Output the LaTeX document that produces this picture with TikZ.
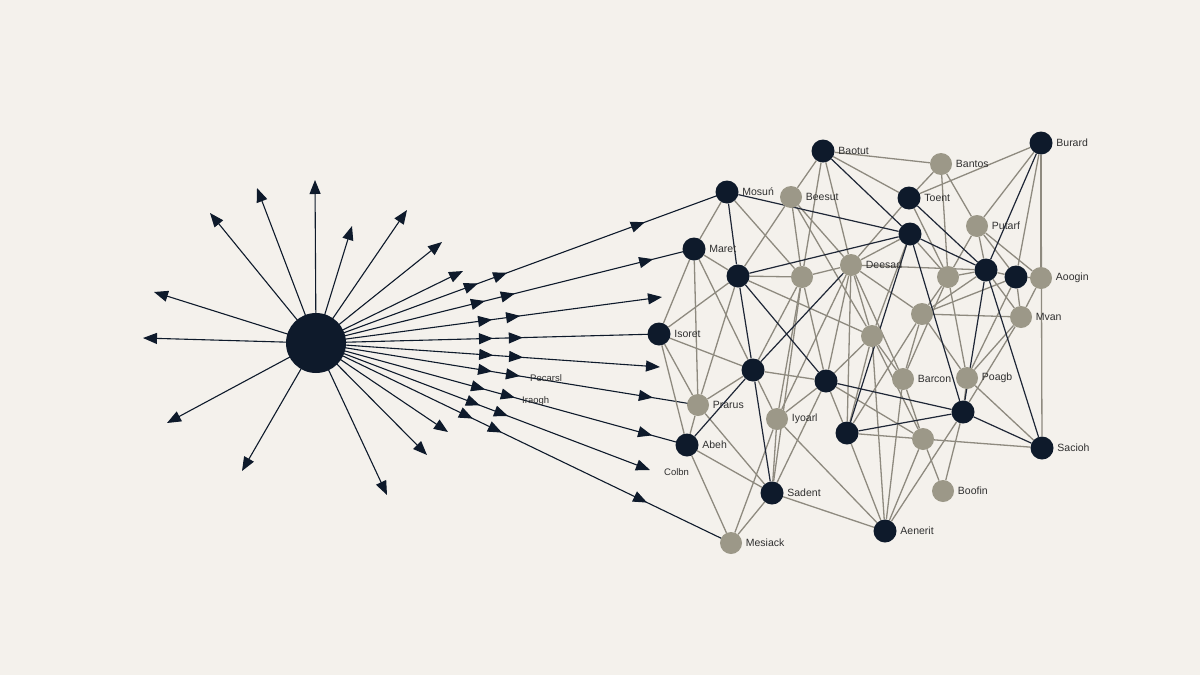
\documentclass[tikz,border=0pt]{standalone}
\usepackage{fontspec}
\setmainfont{Liberation Sans}
\usetikzlibrary{arrows.meta,decorations.markings}
\definecolor{bgc}{HTML}{F4F1EC}
\definecolor{navy}{HTML}{0E1A2B}
\definecolor{stone}{HTML}{9C9888}
\definecolor{sline}{HTML}{8E8A7F}
\definecolor{dline}{HTML}{1E2636}
\definecolor{lbl}{HTML}{303030}
\pgfdeclarelayer{bg}
\pgfsetlayers{bg,main}
\tikzset{tri/.tip={Triangle[length=14pt,width=11pt]}}
\begin{document}
\begin{tikzpicture}[x=1pt,y=-1pt,
  label distance=3.5pt,
  lab/.style={font=\fontsize{10.5}{12}\selectfont,text=lbl,inner sep=0pt},
  smalllab/.style={font=\fontsize{9.5}{11}\selectfont,text=lbl,inner sep=0pt,anchor=west},
  dn/.style={circle,fill=navy,minimum size=23pt,inner sep=0pt},
  gn/.style={circle,fill=stone,minimum size=22pt,inner sep=0pt},
  dl/.style={dn,label={[lab]0:#1}},
  gl/.style={gn,label={[lab]0:#1}},
  ge/.style={draw=sline,line width=1.3pt},
  de/.style={draw=dline,line width=1.2pt},
  ray/.style={draw=navy,line width=1.1pt,-{tri}},
  fan/.style={draw=navy,line width=1.1pt},
  am/.style={postaction={decorate,decoration={markings,mark=at position #1 with {\arrow[navy]{tri}}}}}
]
% hub
\node[circle,fill=navy,minimum size=60pt,inner sep=0pt] (hub) at (316,343) {};

% network nodes
\node[dl=Baotut] (baotut) at (823,151) {};
\node[dl=Mosuń] (mosun) at (727,192) {};
\node[dl=Maret] (maret) at (694,249) {};
\node[dl=Toent] (toent) at (909,198) {};
\node[dn] (d1) at (910,234) {};
\node[dl=Burard] (burard) at (1041,143) {};
\node[dn] (d2) at (738,276) {};
\node[dn] (d3) at (986,270) {};
\node[dn] (d4) at (1016,277) {};
\node[dl=Isoret] (isoret) at (659,334) {};
\node[dn] (d5) at (753,370) {};
\node[dn] (d6) at (826,381) {};
\node[dn] (d7) at (963,412) {};
\node[dl=Abeh] (abeh) at (687,445) {};
\node[dn] (d8) at (847,433) {};
\node[dl=Sadent] (sadent) at (772,493) {};
\node[dl=Aenerit] (aenerit) at (885,531) {};
\node[dl=Sacioh] (sacioh) at (1042,448) {};

\node[gl=Beesut] (beesut) at (791,197) {};
\node[gl=Bantos] (bantos) at (941,164) {};
\node[gl=Putarf] (purtarf) at (977,226) {};
\node[gn] (g1) at (802,277) {};
\node[gl=Deesad] (deesad) at (851,265) {};
\node[gn] (g2) at (948,277) {};
\node[gl=Aoogin] (aoogin) at (1041,278) {};
\node[gn] (g3) at (922,314) {};
\node[gl=Mvan] (mvan) at (1021,317) {};
\node[gn] (g4) at (872,336) {};
\node[gl=Barcon] (barcon) at (903,379) {};
\node[gl=Poagb] (poagb) at (967,378) {};
\node[gl=Prarus] (prarus) at (698,405) {};
\node[gl=Iyoarl] (iyoarl) at (777,419) {};
\node[gn] (g5) at (923,439) {};
\node[gl=Boofin] (boofin) at (943,491) {};
\node[gl=Mesiack] (mesiack) at (731,543) {};

% free labels
\node[smalllab] (pec) at (530,378) {Pecarsl};
\node[smalllab] (ira) at (522,401) {Iraogh};
\node[smalllab] (col) at (664,472) {Colbn};

% ray tips
\coordinate (r1) at (315,180);
\coordinate (r2) at (257,188);
\coordinate (r3) at (210,213);
\coordinate (r4) at (154,292);
\coordinate (r5) at (143,338);
\coordinate (r6) at (167,423);
\coordinate (r7) at (242,471);
\coordinate (r8) at (387,495);
\coordinate (r9) at (427,455);
\coordinate (r10) at (448,432);
\coordinate (r11) at (352,226);
\coordinate (r12) at (407,210);
\coordinate (r13) at (442,242);
\coordinate (r14) at (463,271);
\coordinate (t3) at (662,297);
\coordinate (t5) at (660,367);
\coordinate (t8) at (650,470);

\begin{pgfonlayer}{bg}
\fill[bgc] (0,0) rectangle (1200,675);
\useasboundingbox (0,0) rectangle (1200,675);

% rays
\foreach \r in {r1,r2,r3,r4,r5,r6,r7,r8,r9,r10,r11,r12,r13,r14}
  \draw[ray] (hub.center) -- (\r);

% fan lines
\draw[fan,am=0.394,am=0.465,am=0.80] (hub.center) -- (mosun.center);
\draw[fan,am=0.447,am=0.526,am=0.892] (hub.center) -- (maret.center);
\draw[fan,-{tri},am=0.509,am=0.590] (hub.center) -- (t3);
\draw[fan,am=0.516,am=0.603] (hub.center) -- (isoret.center);
\draw[fan,-{tri},am=0.515,am=0.602] (hub.center) -- (t5);
\draw[fan,am=0.461,am=0.534,am=0.882] (hub.center) -- (prarus.center);
\draw[fan,am=0.456,am=0.536,am=0.906] (hub.center) -- (abeh.center);
\draw[fan,-{tri},am=0.491,am=0.575] (hub.center) -- (t8);
\draw[fan,am=0.378,am=0.448,am=0.798] (hub.center) -- (mesiack.center);

% gray edges
\foreach \a/\b in {mosun/maret,mosun/g1,maret/isoret,maret/d2,maret/prarus,maret/d5,
  beesut/baotut,beesut/d2,beesut/g1,beesut/deesad,beesut/g4,
  baotut/g1,baotut/deesad,baotut/toent,baotut/bantos,
  d2/g1,d2/isoret,d2/prarus,d2/g4,
  isoret/prarus,isoret/abeh,isoret/d5,
  prarus/d5,prarus/abeh,prarus/sadent,
  abeh/sadent,abeh/mesiack,
  d5/g1,d5/d6,d5/iyoarl,
  g1/iyoarl,g1/d6,g1/deesad,g1/sadent,
  deesad/g4,deesad/d6,deesad/d8,deesad/g3,deesad/d3,deesad/toent,deesad/d1,deesad/barcon,deesad/iyoarl,
  d1/g4,d1/g2,toent/bantos,toent/g2,toent/burard,
  bantos/purtarf,bantos/g2,
  burard/purtarf,burard/d4,burard/aoogin,burard/sacioh,
  purtarf/g2,purtarf/d3,purtarf/d4,purtarf/aoogin,
  d3/g2,d3/d4,d3/g3,d3/mvan,
  d4/aoogin,d4/mvan,d4/g3,d4/poagb,
  g2/g3,g2/poagb,g2/barcon,
  g3/mvan,g3/barcon,g3/d8,g3/poagb,
  g4/d6,g4/d8,g4/g5,g4/barcon,g4/aenerit,
  mvan/aoogin,mvan/poagb,mvan/d7,
  barcon/g5,barcon/aenerit,
  poagb/d7,poagb/sacioh,
  d6/iyoarl,d6/sadent,d6/d8,d6/g5,
  d8/g5,d8/aenerit,
  g5/sacioh,g5/boofin,g5/aenerit,
  d7/boofin,d7/aenerit,
  iyoarl/sadent,iyoarl/mesiack,iyoarl/aenerit,
  sadent/mesiack,sadent/aenerit}
  \draw[ge] (\a) -- (\b);

% dark edges
\foreach \a/\b in {mosun/d2,mosun/d1,d2/d1,d2/d6,d2/d5,
  baotut/d1,toent/d3,d1/d3,d1/d8,d1/d7,
  burard/d3,d3/d7,d3/sacioh,
  d5/deesad,abeh/d5,d5/sadent,
  d6/d7,d8/d7,d7/sacioh}
  \draw[de] (\a) -- (\b);
\end{pgfonlayer}
\end{tikzpicture}
\end{document}
